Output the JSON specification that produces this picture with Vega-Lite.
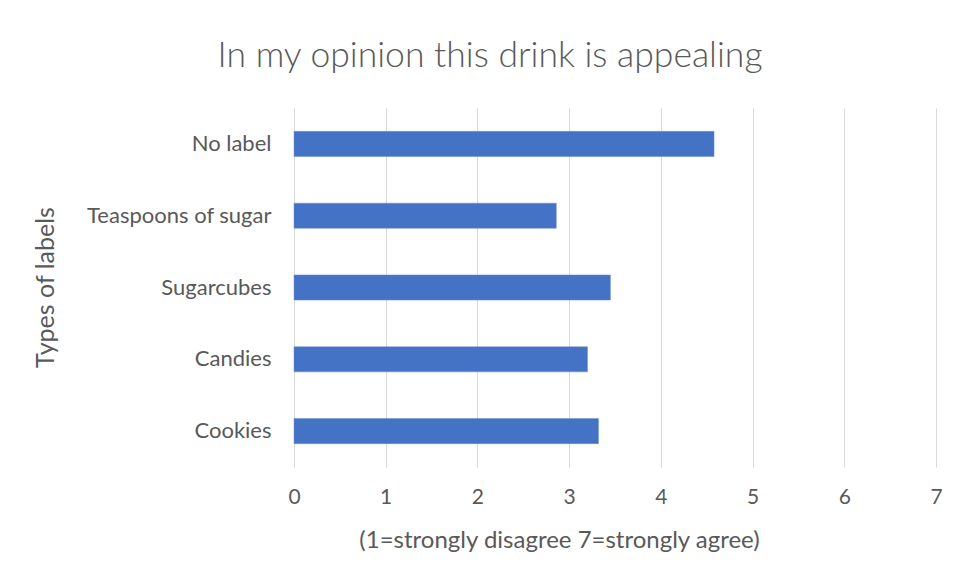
{
  "$schema": "https://vega.github.io/schema/vega-lite/v6.json",
  "autosize": {"type": "none"},
  "width": 642,
  "height": 359,
  "padding": {"left": 294, "top": 108, "right": 23, "bottom": 113},
  "background": "white",
  "data": {"values": [
    {"label": "No label", "value": 4.58},
    {"label": "Teaspoons of sugar", "value": 2.86},
    {"label": "Sugarcubes", "value": 3.45},
    {"label": "Candies", "value": 3.20},
    {"label": "Cookies", "value": 3.32}
  ]},
  "title": {
    "text": "In my opinion this drink is appealing",
    "font": "Lato",
    "fontWeight": 300,
    "fontSize": 35.5,
    "color": "#595959",
    "anchor": "middle",
    "dx": -125,
    "offset": 34
  },
  "mark": {"type": "bar", "color": "#4472C4", "stroke": "#6d8fd0", "strokeWidth": 0.5},
  "encoding": {
    "y": {
      "field": "label", "type": "nominal",
      "sort": ["No label", "Teaspoons of sugar", "Sugarcubes", "Candies", "Cookies"],
      "scale": {"paddingInner": 0.65, "paddingOuter": 0.325},
      "axis": {
        "title": "Types of labels",
        "domain": false, "ticks": false, "grid": false,
        "labelPadding": 23, "labelLimit": 400,
        "labelFont": "Lato", "labelFontSize": 22, "labelColor": "#595959",
        "titleFont": "Lato", "titleFontSize": 25, "titleColor": "#595959", "titleFontWeight": "normal",
        "titleX": -249, "titleY": 179, "titleAngle": -90, "titleAlign": "center", "titleBaseline": "middle"
      }
    },
    "x": {
      "field": "value", "type": "quantitative",
      "scale": {"domain": [0, 7], "nice": false},
      "axis": {
        "title": "(1=strongly disagree 7=strongly agree)",
        "values": [0, 1, 2, 3, 4, 5, 6, 7],
        "domain": false, "ticks": false,
        "grid": true, "gridColor": "#d9d9d9", "gridWidth": 1,
        "labelPadding": 19,
        "labelFont": "Lato", "labelFontSize": 21, "labelColor": "#595959",
        "labelFlush": false,
        "titleFont": "Lato", "titleFontSize": 24, "titleColor": "#595959", "titleFontWeight": "normal",
        "titleX": 265, "titleY": 73, "titleAlign": "center", "titleBaseline": "middle"
      }
    }
  },
  "config": {"view": {"stroke": null}}
}
